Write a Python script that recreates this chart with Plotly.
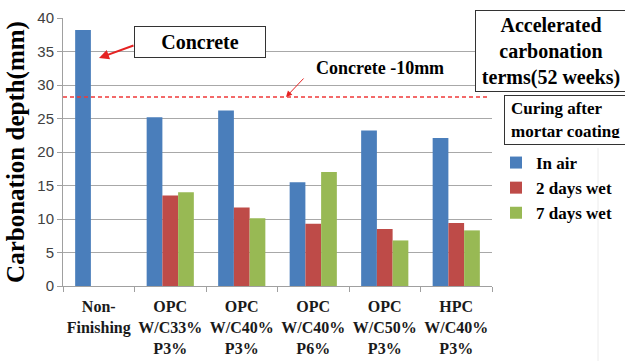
import plotly.graph_objects as go

categories = ["Non-<br>Finishing", "OPC<br>W/C33%<br>P3%", "OPC<br>W/C40%<br>P3%",
              "OPC<br>W/C40%<br>P6%", "OPC<br>W/C50%<br>P3%", "HPC<br>W/C40%<br>P3%"]
in_air = [38.2, 25.2, 26.2, 15.5, 23.2, 22.1]
wet_2days = [None, 13.5, 11.7, 9.3, 8.5, 9.4]
wet_7days = [None, 14.0, 10.1, 17.0, 6.8, 8.3]
concrete_minus_10 = 28.2
series_names = ["In air", "2 days wet", "7 days wet"]
colors = ["#4A7EBB", "#BE4B48", "#98B954"]

W, H = 625, 361
ML, MR, MT, MB = 63, 133, 18, 75
PW, PH = W - ML - MR, H - MT - MB

def px(x):
    return (x - ML) / PW

def py(y):
    return (H - MB - y) / PH

serif = "Liberation Serif"
sans = "Liberation Sans"

fig = go.Figure()
for name, vals, col in zip(series_names, [in_air, wet_2days, wet_7days], colors):
    fig.add_trace(go.Bar(x=categories, y=vals, name="<b>" + name + "</b>", marker_color=col,
                         marker_line_width=0, legendgroup=name))

fig.add_shape(type="line", xref="paper", yref="y", x0=0, x1=px(489),
              y0=concrete_minus_10, y1=concrete_minus_10,
              line=dict(color="#F03838", width=1.5, dash="4px,3px"))
# faint vertical artifact line
fig.add_shape(type="line", xref="paper", yref="paper", x0=px(598), x1=px(598),
              y0=py(148), y1=py(361), line=dict(color="#ececec", width=1))

C = dict(xanchor="center", yanchor="middle", xref="paper", yref="paper")
annotations = [
    dict(text="<b>Concrete</b>", x=px(200), y=py(42),
         showarrow=False, font=dict(family=serif, size=20, color="black"),
         bordercolor="#333", borderwidth=1, borderpad=2, bgcolor="white",
         width=126, height=26, **C),
    dict(text="", x=px(99), y=py(58),
         ax=36, ay=-13, axref="pixel", ayref="pixel", showarrow=True,
         arrowcolor="#E52222", arrowwidth=2, arrowhead=2, arrowsize=1, **C),
    dict(text="<b>Concrete -10mm</b>", x=px(380), y=py(68),
         showarrow=False, font=dict(family=serif, size=18, color="black"), **C),
    dict(text="", x=px(286), y=py(97),
         ax=19, ay=-20, axref="pixel", ayref="pixel", showarrow=True,
         arrowcolor="#E52222", arrowwidth=1, arrowhead=2, arrowsize=1.2, **C),
    dict(text="<b>Accelerated<br>carbonation<br>terms(52 weeks)</b>",
         x=px(551), y=py(49), showarrow=False,
         font=dict(family=serif, size=20, color="black"),
         bordercolor="#333", borderwidth=1, borderpad=1, bgcolor="white",
         width=148, height=78, yshift=-2, **C),
    dict(text="<b>Curing after<br>mortar coating</b>",
         x=px(575), y=py(120), showarrow=False, align="left",
         font=dict(family=serif, size=17, color="black"),
         bordercolor="#333", borderwidth=1, borderpad=6, bgcolor="white",
         width=128, height=36, **C),
]

fig.update_layout(
    width=W, height=H,
    margin=dict(l=ML, r=MR, t=MT, b=MB, autoexpand=False),
    template="none",
    paper_bgcolor="white", plot_bgcolor="white",
    barmode="group", bargap=0.34, bargroupgap=0,
    annotations=annotations,
    legend=dict(x=px(496), y=py(145), xanchor="left", yanchor="top",
                font=dict(family=serif, size=17, color="black"),
                bgcolor="rgba(0,0,0,0)", tracegroupgap=0, itemwidth=30),
    xaxis=dict(type="category", showline=True, linecolor="#a0a0a0", linewidth=1,
               ticks="outside", tickson="boundaries", ticklen=5, tickcolor="#a0a0a0",
               showgrid=False, automargin=False, tickangle=0, ticklabelstandoff=6,
               tickprefix="<b>", ticksuffix="</b>",
               tickfont=dict(family=serif, size=16, color="#1a1a1a")),
    yaxis=dict(range=[0, 40], dtick=5, showgrid=True, gridcolor="#a8a8a8", gridwidth=1,
               showline=True, linecolor="#a0a0a0", ticks="outside", ticklen=5,
               tickcolor="#a0a0a0", zeroline=False, automargin=False,
               tickfont=dict(family=sans, size=15, color="#404040"),
               title=dict(text="<b>Carbonation depth(mm)</b>", standoff=5,
                          font=dict(family=serif, size=25, color="black"))),
)

fig.write_html("out.html")
